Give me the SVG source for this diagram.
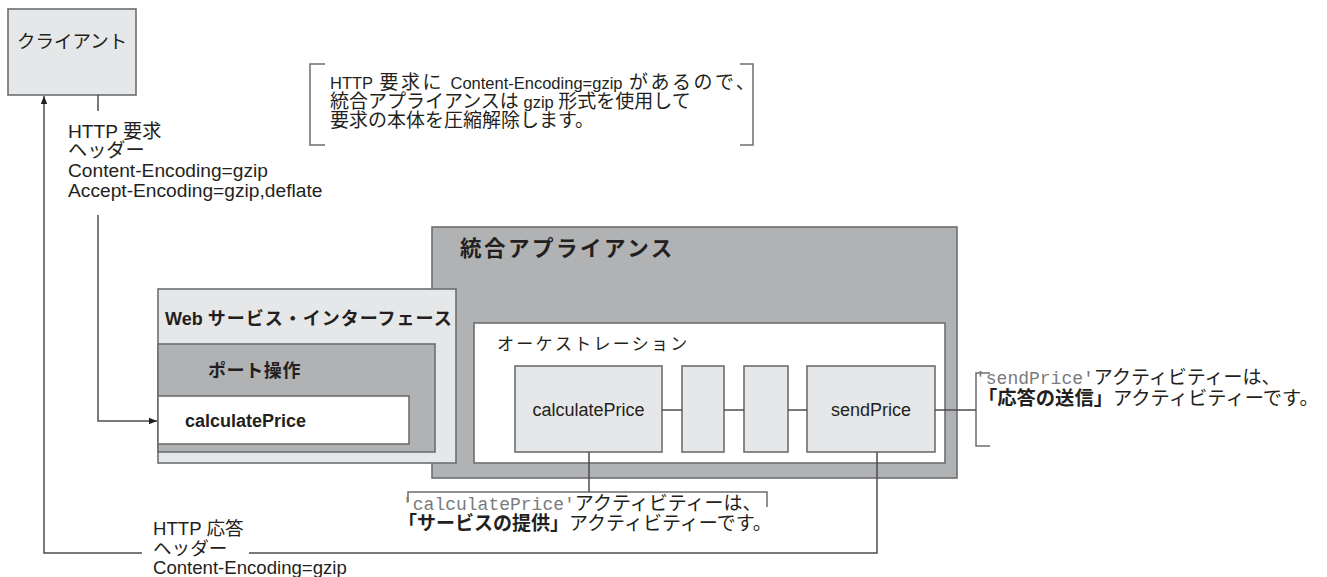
<svg xmlns="http://www.w3.org/2000/svg" width="1327" height="577" viewBox="0 0 1327 577">
<style>
.box{stroke:#6d6e70;stroke-width:1.6}
.light{fill:#e6e7e8}
.mid{fill:#b1b2b4}
.white{fill:#ffffff}
.t{font-family:"Liberation Sans","Noto Sans CJK JP",sans-serif;fill:#231f20;font-size:16px}
.lab{font-size:19.2px}
.lab2{font-size:18.6px}
.j{font-size:19px}
.m{font-family:"Liberation Mono",monospace;fill:#7a7b7d;font-size:18px}
.b{font-weight:bold}
.ln{stroke:#4d4d4f;stroke-width:1.5;fill:none}
.br{stroke:#6d6e70;stroke-width:1.5;fill:none}
</style>
<defs>
<marker id="arr" viewBox="0 0 10 10" refX="10" refY="5" markerWidth="8" markerHeight="8" markerUnits="userSpaceOnUse" orient="auto">
<path d="M0,1 L10,5 L0,9 z" fill="#231f20"/>
</marker>
</defs>
<rect width="1327" height="577" fill="#ffffff"/>

<g id="client">
<rect class="box light" x="8" y="9" width="128" height="86"/>
<text class="t" x="17" y="48" style="font-size:18.5px">クライアント</text>
</g>

<g id="note-request">
<path class="br" d="M325,64 H310 V145 H325"/>
<path class="br" d="M740,64 H753 V145 H740"/>
<text class="t" x="330" y="89" style="font-size:16.5px;word-spacing:2px">HTTP <tspan class="j" style="letter-spacing:2.5px">要求に</tspan> Content-Encoding=gzip <tspan class="j" style="letter-spacing:2.5px">があるので、</tspan></text>
<text class="t" x="330" y="108" style="font-size:16.5px"><tspan class="j">統合アプライアンスは</tspan> gzip <tspan class="j">形式を使用して</tspan></text>
<text class="t j" x="330" y="127">要求の本体を圧縮解除します。</text>
</g>

<g id="label-request">
<text class="t lab" x="68" y="138">HTTP 要求</text>
<text class="t lab" x="68" y="157">ヘッダー</text>
<text class="t lab" x="68" y="177">Content-Encoding=gzip</text>
<text class="t lab" x="68" y="197">Accept-Encoding=gzip,deflate</text>
</g>

<g id="appliance">
<rect class="box mid" x="432" y="227" width="525" height="251"/>
<text class="t b" x="460" y="256" style="font-size:21.5px;letter-spacing:2.5px">統合アプライアンス</text>
</g>

<g id="web-service-interface">
<rect class="box light" x="158" y="289" width="298" height="174"/>
<text class="t b" x="165" y="325" style="font-size:18px">Web <tspan style="letter-spacing:1px">サービス・インターフェース</tspan></text>
</g>

<g id="port-operation">
<rect class="box mid" x="158" y="344" width="277" height="108"/>
<text class="t b" x="208" y="377" style="font-size:18px;letter-spacing:0.6px">ポート操作</text>
</g>

<g id="op-calculatePrice">
<rect class="box white" x="158" y="396" width="251" height="48"/>
<text class="t b" x="185" y="427" style="font-size:18px">calculatePrice</text>
</g>

<g id="orchestration">
<rect class="box white" x="474" y="323" width="471" height="140"/>
<text class="t" x="497" y="350" style="font-size:17px;letter-spacing:2.3px">オーケストレーション</text>
</g>

<g id="act-calculatePrice">
<rect class="box light" x="515" y="366" width="147" height="86"/>
<text class="t" x="588.5" y="416" text-anchor="middle" style="font-size:18px">calculatePrice</text>
</g>

<g id="act-2">
<rect class="box light" x="682" y="366" width="42" height="86"/>
</g>

<g id="act-3">
<rect class="box light" x="744" y="366" width="44" height="86"/>
</g>

<g id="act-sendPrice">
<rect class="box light" x="807" y="366" width="128" height="86"/>
<text class="t" x="871" y="416" text-anchor="middle" style="font-size:18px">sendPrice</text>
</g>

<g id="note-sendPrice">
<path class="br" d="M990,373 H976 V446 H990"/>
<text class="t" x="975" y="384"><tspan class="m">'sendPrice'</tspan><tspan class="j">アクティビティーは、</tspan></text>
<text class="t" x="978" y="405" style="font-size:19.3px"><tspan class="b">「応答の送信」</tspan>アクティビティーです。</text>
</g>

<g id="note-calculatePrice">
<path class="br" d="M408,502 V492 H767 V507"/>
<text class="t" x="402" y="510"><tspan class="m">'calculatePrice'</tspan><tspan class="j">アクティビティーは、</tspan></text>
<text class="t j" x="398" y="530"><tspan class="b">「サービスの提供」</tspan>アクティビティーです。</text>
</g>

<g id="label-response">
<text class="t lab2" x="153" y="535">HTTP 応答</text>
<text class="t lab2" x="153" y="555">ヘッダー</text>
<text class="t lab2" x="153" y="574">Content-Encoding=gzip</text>
</g>

<g id="connectors">
<path class="ln" d="M98,95 V111"/>
<path class="ln" d="M98,215 V421 H157" marker-end="url(#arr)"/>
<path class="ln" d="M662,410 H682 M724,410 H744 M788,410 H807"/>
<path class="ln" d="M935,410 H976"/>
<path class="ln" d="M589,452 V492"/>
<path class="ln" d="M877,452 V553 H249"/>
<path class="ln" d="M142,553 H44 V96" marker-end="url(#arr)"/>
</g>
</svg>
